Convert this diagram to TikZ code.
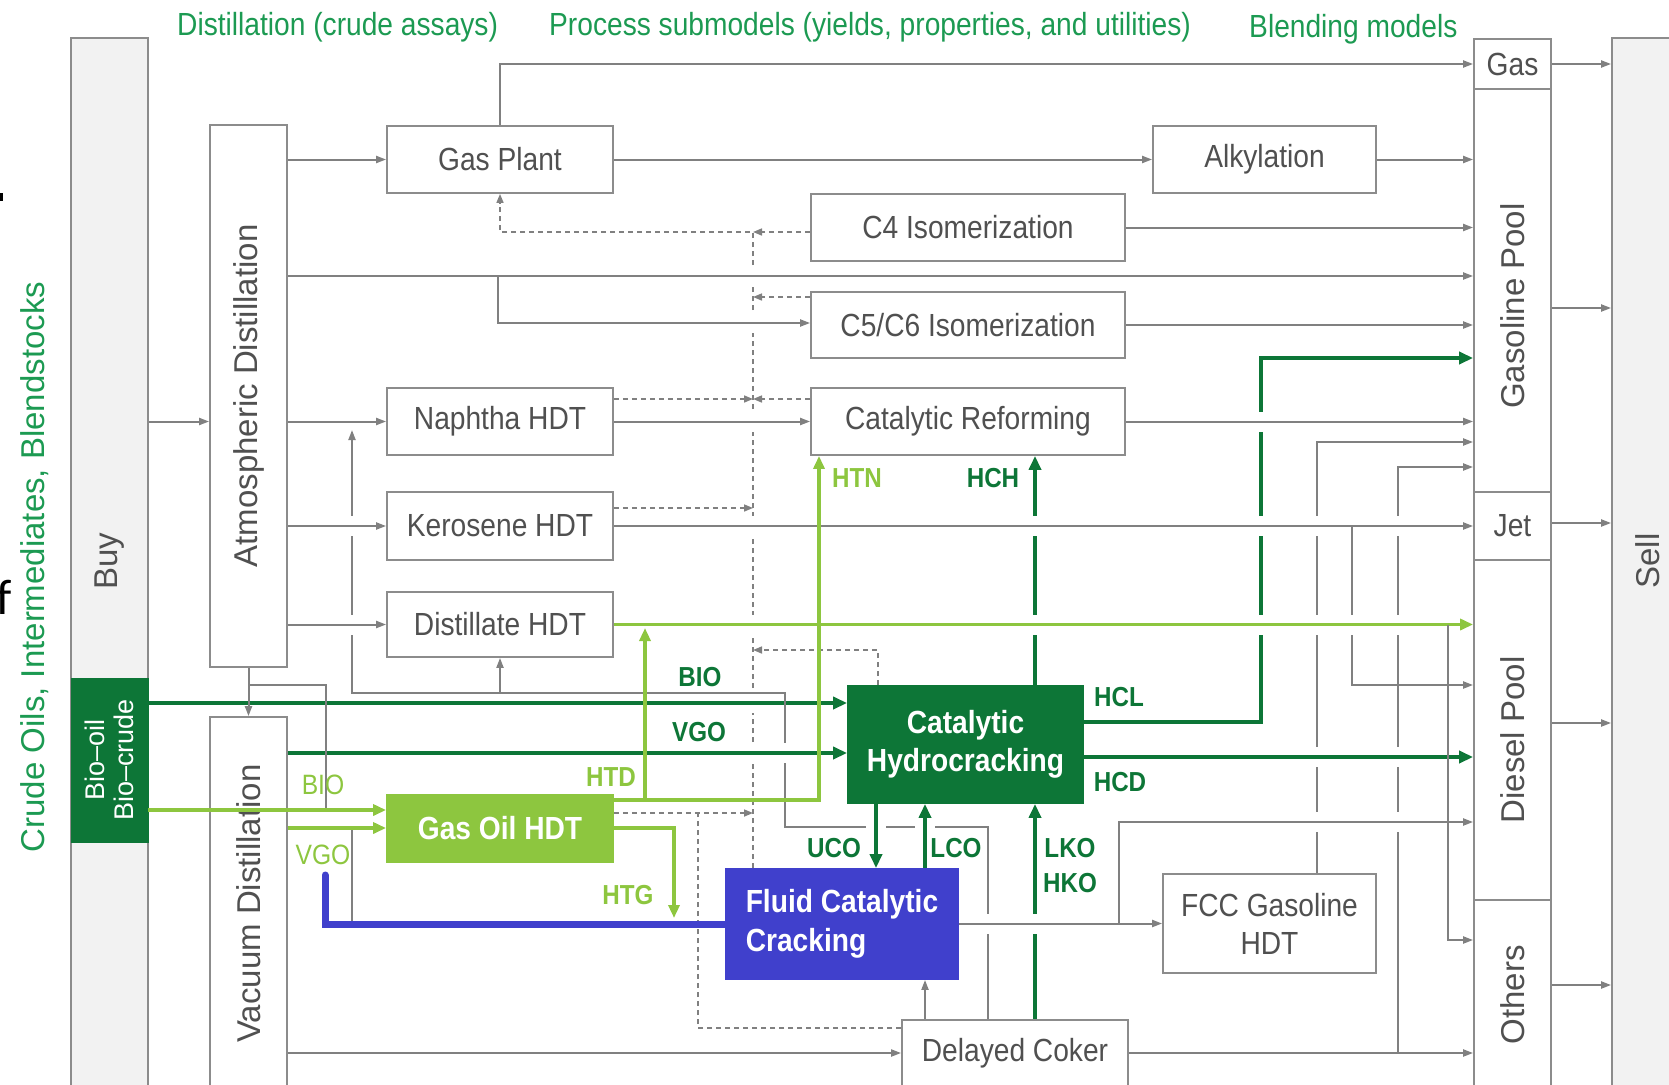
\documentclass[tikz,border=0pt]{standalone}
\usepackage{fontspec}
\setmainfont[FakeStretch=0.88]{Liberation Sans}
\newfontfamily\rotfont{Liberation Sans}
\newfontfamily\slidefont{Carlito}
\usetikzlibrary{arrows.meta,calc,backgrounds}

\definecolor{headgreen}{RGB}{28,154,82}
\definecolor{hcgreen}{RGB}{13,118,55}
\definecolor{htgreen}{RGB}{141,198,63}
\definecolor{fccblue}{RGB}{64,64,204}
\definecolor{linegray}{RGB}{128,128,128}
\definecolor{boxgray}{RGB}{140,140,140}
\definecolor{txtgray}{RGB}{80,80,80}
\definecolor{panelgray}{RGB}{242,242,242}

\newcommand\fsz[2]{\fontsize{#1}{#2}\selectfont}

\tikzset{
  plant/.style={draw=boxgray, line width=1.8pt, fill=white, text=txtgray, inner sep=0pt, font=\fsz{32}{38}},
  panel/.style={plant, fill=panelgray},
  rotlabel/.style={rotate=90, text=txtgray, font=\rotfont\fsz{33}{38}, inner sep=0pt},
  headline/.style={text=headgreen, font=\fsz{32}{38}, inner sep=0pt, anchor=west},
  flow/.style={draw=linegray, line width=2pt, -{Triangle[length=10pt,width=7pt]}},
  pipe/.style={draw=linegray, line width=2pt},
  vent/.style={draw=linegray, line width=1.6pt, dash pattern=on 5pt off 4pt},
  ventarr/.style={vent, -{Triangle[length=9pt,width=7pt]}},
  hcflow/.style={draw=hcgreen, line width=4.5pt, -{Triangle[length=14pt,width=12pt]}},
  htflow/.style={draw=htgreen, line width=3.8pt, -{Triangle[length=13pt,width=11pt]}},
  hop/.style={preaction={draw=white, line width=20pt, -}},
  halo/.style={draw=white, line width=20pt},
  tag/.style={font=\bfseries\fsz{27.5}{30}, inner sep=0pt},
}

\begin{document}
\begin{tikzpicture}[x=1pt,y=-1pt]
\useasboundingbox (0,0) rectangle (1669,1084);

% headings
\node[headline] (hdist) at (177,27) {Distillation (crude assays)};
\node[headline] (hproc) at (549,27) {Process submodels (yields, properties, and utilities)};
\node[headline] (hblend) at (1249,29) {Blending models};
\node[rotlabel, text=headgreen] (hside) at (35,567) {Crude Oils, Intermediates, Blendstocks};
\fill (0,193) rectangle (2.5,201);
\node[inner sep=0pt, anchor=base west, font=\slidefont\fsz{50}{50}] (cutf) at (-4,614) {f};

% buy and sell panels
\node[panel, minimum width=77, minimum height=1052] (buy) at (109.5,564) {};
\node[rotlabel] (buytext) at (110,561) {Buy};
\node[draw=hcgreen, fill=hcgreen, minimum width=77, minimum height=164, inner sep=0pt] (bio) at (109.5,760) {};
\node[rotlabel, text=white, font=\rotfont\fsz{27}{29}, align=center] (biotext) at (bio) {Bio–oil\\Bio–crude};
\node[panel, minimum width=70, minimum height=1052] (sell) at (1647,564) {};
\node[rotlabel] (selltext) at (1648,561) {Sell};

% distillation
\node[plant, minimum width=77, minimum height=542] (atm) at (248.5,396) {};
\node[rotlabel] (atmtext) at (atm) {Atmospheric Distillation};
\node[plant, minimum width=77, minimum height=373] (vac) at (248.5,903.5) {};
\node[rotlabel] (vactext) at (vac) {Vacuum Distillation};

% process units
\node[plant, minimum width=226, minimum height=67] (gaspl) at (500,159.5) {Gas Plant};
\node[plant, minimum width=223, minimum height=67] (alky) at (1264.5,159.5) {Alkylation};
\node[plant, minimum width=314, minimum height=67] (c4) at (968,227.5) {C4 Isomerization};
\node[plant, minimum width=314, minimum height=66] (c56) at (968,325) {C5/C6 Isomerization};
\node[plant, minimum width=314, minimum height=67] (catref) at (968,421.5) {Catalytic Reforming};
\node[plant, minimum width=226, minimum height=67] (naph) at (500,421.5) {Naphtha HDT};
\node[plant, minimum width=226, minimum height=68] (kero) at (500,526) {Kerosene HDT};
\node[plant, minimum width=226, minimum height=65] (dist) at (500,624.5) {Distillate HDT};
\node[plant, draw=htgreen, fill=htgreen, text=white, font=\bfseries\fsz{32}{38}, minimum width=226, minimum height=67] (gohdt) at (500,828.5) {Gas Oil HDT};
\node[plant, draw=hcgreen, fill=hcgreen, text=white, font=\bfseries\fsz{32}{38}, align=center, minimum width=235, minimum height=117] (hcr) at (965.5,744.5) {Catalytic\\Hydrocracking};
\node[plant, draw=fccblue, fill=fccblue, text=white, font=\bfseries\fsz{32}{39}, align=left, minimum width=232, minimum height=110] (fcc) at (842,924) {Fluid Catalytic\\Cracking};
\node[plant, align=center, font=\fsz{32}{38}, minimum width=213, minimum height=99] (fccg) at (1269.5,923.5) {FCC Gasoline\\HDT};
\node[plant, minimum width=226, minimum height=66] (coker) at (1015,1053) {Delayed Coker};

% blending pools
\node[plant, minimum width=77, minimum height=50] (gas) at (1512.5,64) {Gas};
\node[plant, minimum width=77, minimum height=403] (gpool) at (1512.5,290.5) {};
\node[rotlabel] (gpooltext) at (1512.5,306) {Gasoline Pool};
\node[plant, minimum width=77, minimum height=68] (jet) at (1512.5,526) {Jet};
\node[plant, minimum width=77, minimum height=340] (dpool) at (1512.5,730) {};
\node[rotlabel] (dpooltext) at (1512.5,740) {Diesel Pool};
\node[plant, minimum width=77, minimum height=190] (others) at (1512.5,995) {};
\node[rotlabel] (otherstext) at (others) {Others};

\coordinate (hdr) at (753,232);

\begin{scope}[on background layer]
% off-gas header (dashed)
\draw[ventarr] (fcc.north -| hdr) -- (hdr) -| (gaspl.south);
\draw[ventarr] (c4.west |- hdr) -- (hdr);
\draw[ventarr] (c56.west |- 0,297) -- (hdr |- 0,297);
\draw[ventarr] (catref.west |- 0,399) -- (hdr |- 0,399);
\draw[ventarr] (naph.east |- 0,399) -- (hdr |- 0,399);
\draw[ventarr] (kero.east |- 0,508) -- (hdr |- 0,508);
\draw[ventarr] (gohdt.east |- 0,813) -- (hdr |- 0,813);
\draw[ventarr] (hcr.north -| 878,0) |- (hdr |- 0,650);
\draw[vent] (coker.west |- 0,1028) -| (698,813);

% bio-oil to hydrocracking
\draw[hcflow, hop] (bio.east |- 0,703) -- (hcr.west |- 0,703);

% coker naphtha and gas oil back to hydrotreaters
\draw[flow] (coker.north -| 988,0) |- (785,827) |- (352,693) -- (352,430);
\draw[flow] (dist.south |- 0,693) -- (dist.south);

\draw[hcflow, hop] (vac.east |- 0,753) -- (hcr.west |- 0,753);

% long risers, cut by the lines that cross them
\draw[hcflow] (hcr.east |- 0,722) -| (1261,358) -- (gpool.west |- 0,358);
\draw[hcflow] (hcr.north -| 1035,0) -- (catref.south -| 1035,0);
\draw[hcflow] (coker.north -| 1035,0) -- (hcr.south -| 1035,0);
\draw[flow] (fccg.north -| 1317,0) |- (gpool.west |- 0,442);
\draw[flow] (coker.east -| 1398,0) |- (gpool.west |- 0,467);

\draw[hcflow, hop] (hcr.south -| 876,0) -- (fcc.north -| 876,0);
\draw[hcflow, hop] (fcc.north -| 925,0) -- (hcr.south -| 925,0);

% kerosene
\draw[flow, hop] (atm.east |- kero.west) -- (kero.west);
\draw[flow, hop] (kero.east) -- (jet.west);
\draw[flow] (kero.east -| 1352,0) |- (dpool.west |- 0,685);

% distillate
\draw[flow, hop] (atm.east |- dist.west) -- (dist.west);
\draw[htflow, hop] (dist.east) -- (dist.east -| dpool.west);

% naphtha
\draw[flow] (buy.east |- naph.west) -- (atm.west |- naph.west);
\draw[flow] (atm.east |- naph.west) -- (naph.west);
\draw[flow, hop] (naph.east) -- (catref.west);
\draw[flow, hop] (catref.east) -- (catref.east -| gpool.west);

% light ends
\draw[flow, hop] (atm.east |- 0,276) -- (gpool.west |- 0,276);
\draw[halo] (498,323) -- (c56.west |- 0,323);
\draw[flow] (498,276) |- (c56.west |- 0,323);
\draw[flow] (atm.east |- gaspl.west) -- (gaspl.west);
\draw[flow] (gaspl.east) -- (alky.west);
\draw[flow] (alky.east) -- (alky.east -| gpool.west);
\draw[flow] (gaspl.north) |- (gas.west);
\draw[flow] (c4.east) -- (c4.east -| gpool.west);
\draw[flow] (c56.east) -- (c56.east -| gpool.west);

\draw[hcflow, hop] (hcr.east |- 0,757) -- (dpool.west |- 0,757);

% fcc products
\draw[flow, hop] (fcc.east |- fccg.west) -- (fccg.west);
\draw[halo] (1119,822) -- (dpool.west |- 0,822);
\draw[flow] (fccg.west -| 1119,0) |- (dpool.west |- 0,822);

% coker
\draw[flow] (coker.north -| 925,0) -- (fcc.south -| 925,0);
\draw[flow] (vac.east |- coker.west) -- (coker.west);
\draw[flow] (coker.east) -- (coker.east -| others.west);
\draw[flow] (dist.east -| 1448,0) |- (others.west |- 0,940);

% pools to sell
\draw[flow] (gas.east) -- (gas.east -| sell.west);
\draw[flow] (gpool.east |- 0,308) -- (sell.west |- 0,308);
\draw[flow] (jet.east |- 0,523) -- (sell.west |- 0,523);
\draw[flow] (dpool.east |- 0,723) -- (sell.west |- 0,723);
\draw[flow] (others.east |- 0,985) -- (sell.west |- 0,985);

% residue
\draw[flow] (atm.south) -- (vac.north);
\draw[pipe] (atm.south |- 0,685) -| (326,810);
\draw[pipe] (352,828) -- (352,923);

% hydrotreated streams
\draw[htflow] (gohdt.east |- 0,800) -| (catref.south -| 819,0);
\draw[htflow] (645,800) -- (645,628);
\draw[htflow] (gohdt.east |- 0,828) -| (674,918);

\draw[draw=fccblue, line width=7pt, line cap=round] (325,875) |- (fcc.west);
\end{scope}

% feeds to gas oil HDT
\draw[htflow] (bio.east |- 0,810) -- (gohdt.west |- 0,810);
\draw[htflow] (vac.east |- 0,828) -- (gohdt.west |- 0,828);

% stream labels
\node[tag, text=hcgreen] (tbio) at (700,677) {BIO};
\node[tag, text=hcgreen] (tvgo) at (699,732) {VGO};
\node[tag, text=htgreen] (thtn) at (857,478) {HTN};
\node[tag, text=hcgreen] (thch) at (993,478) {HCH};
\node[tag, text=hcgreen] (thcl) at (1119,697) {HCL};
\node[tag, text=hcgreen] (thcd) at (1120,782) {HCD};
\node[tag, text=htgreen] (thtd) at (611,777) {HTD};
\node[tag, text=htgreen] (thtg) at (628,895) {HTG};
\node[tag, text=hcgreen] (tuco) at (834,848) {UCO};
\node[tag, text=hcgreen] (tlco) at (956,848) {LCO};
\node[tag, text=hcgreen] (tlko) at (1070,848) {LKO};
\node[tag, text=hcgreen] (thko) at (1070,883) {HKO};
\node[text=htgreen, font=\fsz{28}{30}, inner sep=0pt] (lbio) at (323,785) {BIO};
\node[text=htgreen, font=\fsz{28}{30}, inner sep=0pt] (lvgo) at (323,855) {VGO};
\end{tikzpicture}
\end{document}
